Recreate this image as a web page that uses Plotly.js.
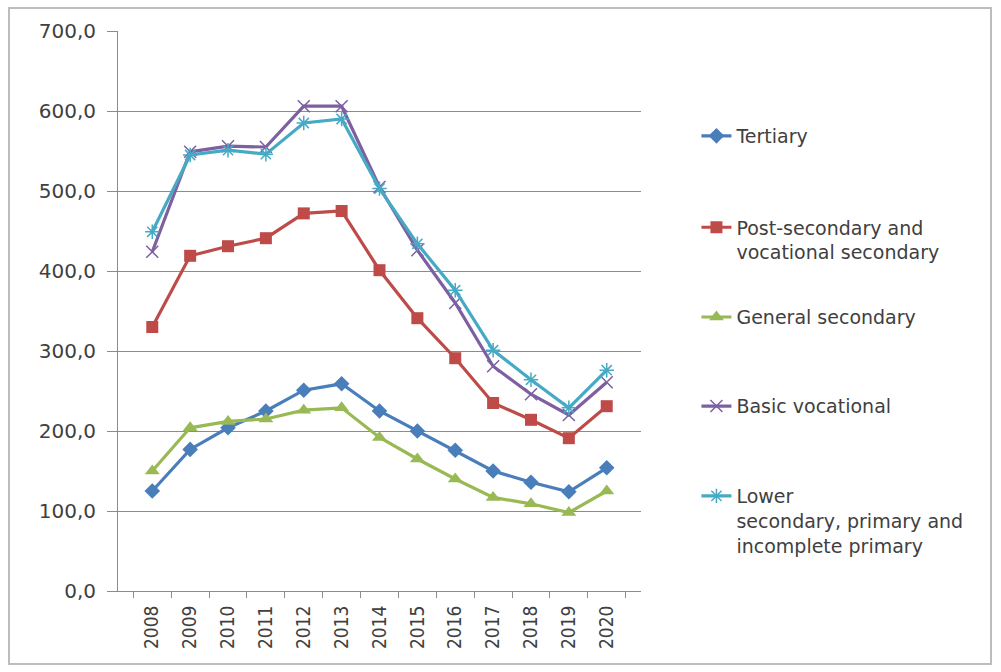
<!DOCTYPE html>
<html>
<head>
<meta charset="utf-8">
<script src="https://cdn.plot.ly/plotly-3.0.1.min.js"></script>
<style>
  html, body { margin: 0; padding: 0; background: #ffffff; }
  #chart { width: 1001px; height: 672px; position: relative; }
  #frame { position: absolute; left: 8px; top: 7px; width: 984px; height: 658px;
           border: 2px solid #bdbdbd; box-sizing: border-box; pointer-events: none; }
</style>
</head>
<body>
<div id="chart"></div>
<div id="frame"></div>
<script>
// Years on the category axis
const years = ['2008','2009','2010','2011','2012','2013','2014','2015','2016','2017','2018','2019','2020'];

// Series by education level
const tertiary      = [125, 177, 204, 225, 251, 259, 225, 200, 176, 150, 136, 124, 154];
const postSecondary = [330, 419, 431, 441, 472, 475, 401, 341, 291, 235, 214, 191, 231];
const generalSec    = [150, 204, 212, 215, 226, 229, 192, 165, 140, 117, 109,  98, 125];
const basicVoc      = [424, 549, 556, 555, 606, 606, 505, 426, 360, 281, 246, 220, 261];
const lowerSec      = [449, 545, 551, 546, 585, 590, 503, 434, 376, 301, 264, 229, 276];

const seriesNames = [
  'Tertiary',
  'Post-secondary and<br>vocational secondary',
  'General secondary',
  'Basic vocational',
  'Lower<br>secondary, primary and<br>incomplete primary'
];

// Each series gets its own legend box so the entries can be spaced freely
const legendIds = ['legend', 'legend2', 'legend3', 'legend4', 'legend5'];
const legendCenters = [0.8125, 0.627, 0.489, 0.330, 0.125];

function line(i, y, color, symbol, size, open) {
  return {
    type: 'scatter', mode: 'lines+markers', x: years, y: y, name: seriesNames[i],
    legend: legendIds[i],
    line: { color: color, width: 3.2 },
    marker: open
      ? { symbol: symbol, size: size, color: color, line: { color: color, width: 1.5 } }
      : { symbol: symbol, size: size, color: color, line: { width: 0 } }
  };
}

const data = [
  line(0, tertiary,      '#4a7ebb', 'diamond',       12, false),
  line(1, postSecondary, '#be4b48', 'square',        12, false),
  line(2, generalSec,    '#98b954', 'triangle-up',   13, false),
  line(3, basicVoc,      '#7d60a0', 'x-thin-open',   12, true),
  line(4, lowerSec,      '#46aac5', 'asterisk-open', 12, true)
];

const layout = {
  width: 1001, height: 672,
  margin: { l: 118, r: 360, t: 31, b: 81 },
  paper_bgcolor: '#ffffff', plot_bgcolor: '#ffffff',
  separators: ', ',
  font: { family: 'DejaVu Sans, sans-serif', color: '#404040' },
  showlegend: true,
  xaxis: {
    type: 'category',
    tickangle: -90,
    tickfont: { size: 19, family: 'DejaVu Sans Condensed, Liberation Sans Narrow, sans-serif', color: '#404040' },
    showgrid: false,
    showline: true, linecolor: '#8c8c8c', linewidth: 1,
    ticks: 'outside', ticklen: 6, tickcolor: '#8c8c8c',
    tickson: 'boundaries',
    ticklabelstandoff: 6,
    zeroline: false
  },
  yaxis: {
    range: [0, 700], dtick: 100, tick0: 0,
    tickformat: '.1f',
    tickfont: { size: 20, color: '#404040' },
    showgrid: true, gridcolor: '#8c8c8c', gridwidth: 1,
    showline: true, linecolor: '#8c8c8c', linewidth: 1,
    ticks: 'outside', ticklen: 10, tickcolor: '#8c8c8c',
    ticklabelstandoff: 7,
    zeroline: false
  }
};

legendIds.forEach(function (id, i) {
  layout[id] = {
    x: 1.106, xanchor: 'left', y: legendCenters[i], yanchor: 'middle',
    valign: 'top',
    font: { size: 19, color: '#404040' },
    bgcolor: 'rgba(0,0,0,0)'
  };
});

Plotly.newPlot('chart', data, layout, { displayModeBar: false, staticPlot: true });
</script>
</body>
</html>
